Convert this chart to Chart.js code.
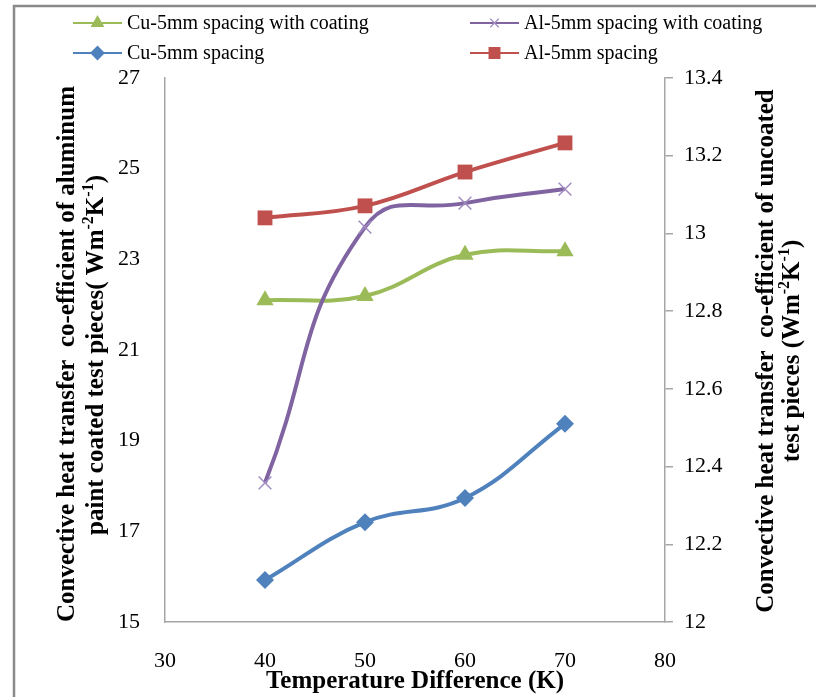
<!DOCTYPE html>
<html>
<head>
<meta charset="utf-8">
<script src="https://cdn.jsdelivr.net/npm/chart.js@4.4.1/dist/chart.umd.min.js"></script>
<style>
  html, body { margin: 0; padding: 0; background: #ffffff; }
  #wrap { width: 816px; height: 697px; position: relative; }
</style>
</head>
<body>
<div id="wrap"><canvas id="c" width="816" height="697"></canvas></div>
<script>
// ---- data ----
const tempDiff = [40, 50, 60, 70];
const cuCoated = [22.10, 22.19, 23.10, 23.18];
const alCoated = [18.07, 23.71, 24.24, 24.55];
const cuUncoated = [12.108, 12.257, 12.319, 12.51];
const alUncoated = [13.04, 13.071, 13.158, 13.233];

const xTickLabels = ['30', '40', '50', '60', '70', '80'];
const leftTickLabels = ['15', '17', '19', '21', '23', '25', '27'];
const rightTickLabels = ['12', '12.2', '12.4', '12.6', '12.8', '13', '13.2', '13.4'];

const seriesNames = ['Cu-5mm spacing with coating', 'Al-5mm spacing with coating', 'Cu-5mm spacing', 'Al-5mm spacing'];

const SERIF = '"Liberation Serif", "Times New Roman", serif';
const AXIS_GRAY = '#A6A6A6';

function pts(xs, ys) { return xs.map((x, i) => ({ x: x, y: ys[i] })); }

const datasets = [
  { label: seriesNames[3], data: pts(tempDiff, alUncoated), yAxisID: 'y1',
    borderColor: '#C0504D', backgroundColor: '#C0504D', pointStyle: 'rect',
    pointRadius: 10.5, pointBorderWidth: 0, borderWidth: 4, tension: 0.4, order: 1,
    legendRadius: 7 },
  { label: seriesNames[1], data: pts(tempDiff, alCoated), yAxisID: 'y',
    borderColor: '#8064A2', backgroundColor: '#8064A2', pointStyle: 'crossRot',
    pointRadius: 9, pointBorderWidth: 1.5, pointBorderColor: '#A08CC0', borderWidth: 4, tension: 0.48, order: 2,
    legendRadius: 6 },
  { label: seriesNames[0], data: pts(tempDiff, cuCoated), yAxisID: 'y',
    borderColor: '#9BBB59', backgroundColor: '#9BBB59', pointStyle: 'triangle',
    pointRadius: 10, pointBorderWidth: 0, borderWidth: 4, tension: 0.4, order: 3,
    legendRadius: 6 },
  { label: seriesNames[2], data: pts(tempDiff, cuUncoated), yAxisID: 'y1',
    borderColor: '#4F81BD', backgroundColor: '#4F81BD', pointStyle: 'rectRot',
    pointRadius: 9, pointBorderWidth: 0, borderWidth: 4, tension: 0.4, order: 4,
    legendRadius: 6 }
];

// legend layout: [series name, x of line start, y]
const legendLayout = [
  [seriesNames[0], 73, 23],
  [seriesNames[1], 470, 23],
  [seriesNames[2], 73, 53],
  [seriesNames[3], 470, 53]
];

function drawRich(ctx, segs, cx, cy, size) {
  const base = 'bold ' + size + 'px ' + SERIF;
  const sup = 'bold ' + Math.round(size * 0.62) + 'px ' + SERIF;
  let total = 0;
  segs.forEach(s => { ctx.font = s.sup ? sup : base; total += ctx.measureText(s.t).width; });
  let x = cx - total / 2;
  ctx.textAlign = 'left';
  ctx.textBaseline = 'middle';
  segs.forEach(s => {
    ctx.font = s.sup ? sup : base;
    ctx.fillText(s.t, x, s.sup ? cy - size * 0.33 : cy);
    x += ctx.measureText(s.t).width;
  });
}

const decorPlugin = {
  id: 'decor',
  beforeDraw(chart) {
    const ctx = chart.ctx;
    ctx.save();
    ctx.fillStyle = '#ffffff';
    ctx.fillRect(0, 0, chart.width, chart.height);
    ctx.strokeStyle = '#8A8A8A';
    ctx.lineWidth = 2.5;
    ctx.beginPath();
    ctx.moveTo(14, chart.height);
    ctx.lineTo(14, 6);
    ctx.lineTo(chart.width, 6);
    ctx.stroke();
    ctx.restore();
  },
  afterDraw(chart) {
    const ctx = chart.ctx;
    ctx.save();
    ctx.fillStyle = '#000000';
    const T = 25;
    // left title
    ctx.save();
    ctx.translate(68, 354);
    ctx.rotate(-Math.PI / 2);
    drawRich(ctx, [{ t: 'Convective heat transfer  co-efficient of aluminum' }], 0, 0, T);
    ctx.restore();
    ctx.save();
    ctx.translate(97, 355);
    ctx.rotate(-Math.PI / 2);
    drawRich(ctx, [{ t: 'paint coated test pieces( Wm' }, { t: '-2', sup: true }, { t: 'K' }, { t: '-1', sup: true }, { t: ')' }], 0, 0, T);
    ctx.restore();
    // right title
    ctx.save();
    ctx.translate(767, 351);
    ctx.rotate(-Math.PI / 2);
    drawRich(ctx, [{ t: 'Convective heat transfer  co-efficient of uncoated' }], 0, 0, T);
    ctx.restore();
    ctx.save();
    ctx.translate(793, 351);
    ctx.rotate(-Math.PI / 2);
    drawRich(ctx, [{ t: 'test pieces (Wm' }, { t: '-2', sup: true }, { t: 'K' }, { t: '-1', sup: true }, { t: ')' }], 0, 0, T);
    ctx.restore();
    // x title
    drawRich(ctx, [{ t: 'Temperature Difference (K)' }], 415, 682, T);

    // legend
    legendLayout.forEach(([name, lx, ly]) => {
      const ds = chart.data.datasets.find(d => d.label === name);
      ctx.strokeStyle = ds.borderColor;
      ctx.lineWidth = 2;
      ctx.beginPath();
      ctx.moveTo(lx, ly);
      ctx.lineTo(lx + 49, ly);
      ctx.stroke();
      ctx.fillStyle = ds.backgroundColor;
      ctx.strokeStyle = ds.pointBorderColor || ds.borderColor;
      ctx.lineWidth = ds.pointStyle === 'crossRot' ? 1.2 : 0;
      Chart.helpers.drawPoint(ctx, { pointStyle: ds.pointStyle, radius: ds.legendRadius, rotation: 0, borderWidth: ctx.lineWidth }, lx + 24.5, ly);
      ctx.fillStyle = '#000000';
      ctx.font = '20px ' + SERIF;
      ctx.textAlign = 'left';
      ctx.textBaseline = 'middle';
      ctx.fillText(name, lx + 54, ly + 1);
    });
    ctx.restore();
  }
};

new Chart(document.getElementById('c'), {
  type: 'line',
  data: { datasets: datasets },
  plugins: [decorPlugin],
  options: {
    responsive: false,
    animation: false,
    layout: { padding: { top: 78, left: 0, right: 0, bottom: 0 } },
    plugins: { legend: { display: false }, tooltip: { enabled: false } },
    scales: {
      x: {
        type: 'linear', position: 'bottom', min: 30, max: 80,
        afterFit(s) { s.height = 75; },
        ticks: { stepSize: 10, padding: 18, color: '#000', font: { family: SERIF, size: 22 },
          callback: (v, i) => xTickLabels[i] },
        grid: { display: false },
        border: { display: true, color: AXIS_GRAY, width: 1.5 }
      },
      y: {
        type: 'linear', position: 'left', min: 15, max: 27,
        afterFit(s) { s.width = 165; },
        ticks: { stepSize: 2, padding: 17, color: '#000', font: { family: SERIF, size: 22 },
          callback: (v, i) => leftTickLabels[i] },
        grid: { display: false },
        border: { display: true, color: AXIS_GRAY, width: 1.5 }
      },
      y1: {
        type: 'linear', position: 'right', min: 12, max: 13.4,
        afterFit(s) { s.width = 151; },
        ticks: { stepSize: 0.2, padding: 11, color: '#000', font: { family: SERIF, size: 22 },
          callback: (v, i) => rightTickLabels[i] },
        grid: { display: true, drawOnChartArea: false, drawTicks: true, tickLength: 8, color: AXIS_GRAY, lineWidth: 1.5 },
        border: { display: true, color: AXIS_GRAY, width: 1.5 }
      }
    }
  }
});
</script>
</body>
</html>
